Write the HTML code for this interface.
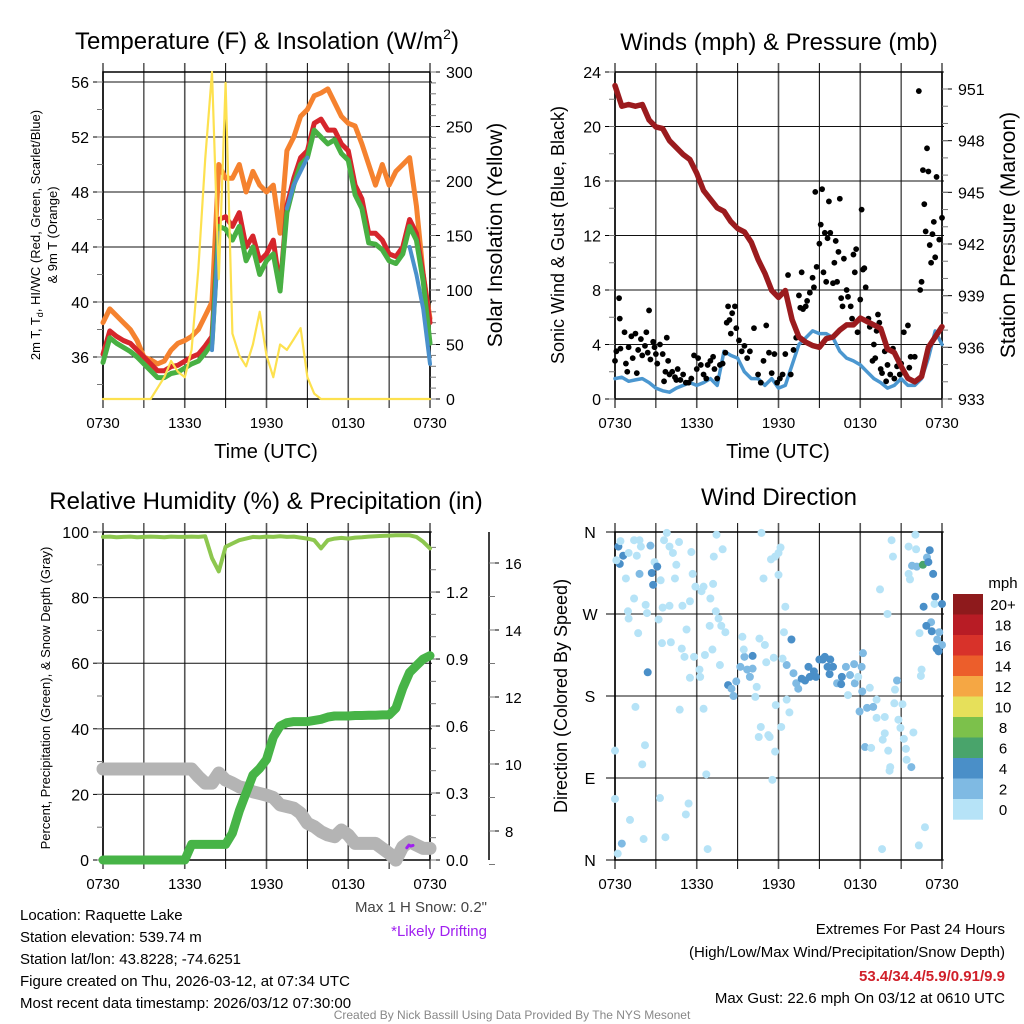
<!DOCTYPE html>
<html><head><meta charset="utf-8"><style>
html,body{margin:0;padding:0;background:#fff;}
svg{display:block;font-family:"Liberation Sans",Arial,sans-serif;}
</style></head><body>
<svg id="chart" width="1024" height="1024" viewBox="0 0 1024 1024" xmlns="http://www.w3.org/2000/svg">
<rect x="0" y="0" width="1024" height="1024" fill="#fff"/>
<text x="267" y="49" font-size="24" text-anchor="middle">Temperature (F) &amp; Insolation (W/m<tspan font-size="14" dy="-10">2</tspan><tspan dy="10">)</tspan></text>
<text x="779" y="50" font-size="24" text-anchor="middle">Winds (mph) &amp; Pressure (mb)</text>
<text x="266" y="509" font-size="24" text-anchor="middle">Relative Humidity (%) &amp; Precipitation (in)</text>
<text x="779" y="505" font-size="24" text-anchor="middle">Wind Direction</text>

<text transform="translate(40,235) rotate(-90)" font-size="13" text-anchor="middle">2m T, T<tspan font-size="9" dy="3">d</tspan><tspan dy="-3">, HI/WC (Red, Green, Scarlet/Blue)</tspan></text>
<text transform="translate(57,235) rotate(-90)" font-size="13" text-anchor="middle">&amp; 9m T (Orange)</text>
<text transform="translate(502,235) rotate(-90)" font-size="21" text-anchor="middle">Solar Insolation (Yellow)</text>
<text transform="translate(564,235) rotate(-90)" font-size="18" text-anchor="middle">Sonic Wind &amp; Gust (Blue, Black)</text>
<text transform="translate(1015,235) rotate(-90)" font-size="21" text-anchor="middle">Station Pressure (Maroon)</text>
<text transform="translate(50,698) rotate(-90)" font-size="13" text-anchor="middle">Percent, Precipitation (Green), &amp; Snow Depth (Gray)</text>
<text transform="translate(567,696) rotate(-90)" font-size="18" text-anchor="middle">Direction (Colored By Speed)</text>
<text x="266" y="458" font-size="20" text-anchor="middle">Time (UTC)</text>
<text x="778" y="458" font-size="20" text-anchor="middle">Time (UTC)</text>

<g id="layer"></g>

<text x="487" y="912" font-size="15" fill="#444" text-anchor="end">Max 1 H Snow: 0.2"</text>
<text x="487" y="936" font-size="15" fill="#a020f0" text-anchor="end">*Likely Drifting</text>
<g font-size="15">
<text x="20" y="920">Location: Raquette Lake</text>
<text x="20" y="942">Station elevation: 539.74 m</text>
<text x="20" y="964">Station lat/lon: 43.8228; -74.6251</text>
<text x="20" y="986">Figure created on Thu, 2026-03-12, at 07:34 UTC</text>
<text x="20" y="1008">Most recent data timestamp: 2026/03/12 07:30:00</text>
</g>
<g font-size="15" text-anchor="end">
<text x="1005" y="934">Extremes For Past 24 Hours</text>
<text x="1005" y="957">(High/Low/Max Wind/Precipitation/Snow Depth)</text>
<text x="1005" y="981" fill="#d0202a" font-weight="bold">53.4/34.4/5.9/0.91/9.9</text>
<text x="1005" y="1003">Max Gust: 22.6 mph On 03/12 at 0610 UTC</text>
</g>
<text x="512" y="1019" font-size="12" fill="#888" text-anchor="middle">Created By Nick Bassill Using Data Provided By The NYS Mesonet</text>
</svg>
<script>
// ---- data (30-min steps, 0730 -> 0730 UTC) ----
const timeLabels = ["0730","1330","1930","0130","0730"];
const temp2m = [36.2,37.9,37.5,37.2,37,36.5,36,35.5,35,35,35.3,35.4,35.7,36,36.2,36.8,37.5,46,46.2,45.5,46.5,44,44.8,43,43.5,44.5,41,47,49,50.5,51,53,53.3,52.5,52.5,51.5,51,48.5,47.5,45,45,44.5,43.5,43.3,44,46,45,42,38.5];
const dewGreen = [35.6,37.4,37,36.7,36.4,36,35.5,35,34.5,34.5,34.8,34.9,35.2,35.5,35.7,36.3,37,45.5,45.3,44.5,45.5,43,44,42,43,43.5,40.8,46.5,48.5,50,50.5,52.5,52,51.5,51.8,50.8,50.3,47.8,46.8,44.3,44.2,43.8,43,42.8,43.5,45.5,44.5,41.5,37];
const windChill = [null,null,null,null,null,null,null,null,null,null,null,null,null,null,null,null,36.5,45,null,null,null,null,null,null,null,null,null,46.8,48.5,49.5,50.5,null,null,null,null,null,null,null,null,null,null,null,null,null,null,44,42,39.5,35.5];
const temp9m = [38.5,39.5,39,38.5,38,37.2,36,35.8,35.5,35.7,36.5,37,37.2,37.5,38,39,40,50,49,49,50,48,49.5,48.5,48,48.5,45,51,52,53.5,54,55,55.2,55.5,54.5,53.5,53,52.8,51.5,50,48.5,50,48.5,49.5,50,50.5,47,42,38.8];
const solar = [0,0,0,0,0,0,0,0,10,20,35,25,20,45,120,220,300,110,290,60,40,30,50,80,40,20,50,45,55,65,20,5,0,0,0,0,0,0,0,0,0,0,0,0,0,0,0,0,0];
const sonicWind = [1.5,1.6,1.3,1.4,1.5,1.2,0.8,0.6,0.5,0.8,1,1.2,1,1.2,1.5,1,3.5,3.2,3,2,1.5,1.5,1,1.5,0.8,1,2.5,4,4.5,5,4.8,4.8,4.5,3.5,3,2.8,2.5,2,1.5,1.2,0.8,1,1.5,1,1,1.5,3,5,4];
const pressure = [951.2,950,950.1,950,950.1,949.2,948.8,948.7,948,947.6,947.2,946.9,946.1,945.1,944.6,944.1,943.9,943.3,942.9,942.7,942.1,941.1,940.3,939.3,938.9,939.3,937.6,936.6,936.3,936.1,936,936.5,936.6,937,937.3,937.3,937.7,937.5,937.3,937.1,935.9,935.7,934.9,934.2,934,934.3,936,936.6,937.2];
const gustHours = [0,0.1,0.3,0.35,0.4,0.7,0.8,0.9,1,1.2,1.3,1.5,1.6,1.7,1.9,2,2.2,2.3,2.4,2.5,2.6,2.8,2.9,3,3.1,3.3,3.5,3.6,3.7,3.8,3.9,4,4.2,4.4,4.5,4.6,4.8,5,5.2,5.4,5.6,5.8,6,6.1,6.3,6.5,6.7,6.8,7,7.2,7.3,7.5,7.7,7.9,8.1,8.2,8.3,8.4,8.5,8.6,8.8,8.9,9.1,9.3,9.5,9.7,9.9,10.2,10.5,10.7,10.9,11.1,11.3,11.5,11.7,11.9,12.1,12.3,12.5,12.7,12.9,13.1,13.3,13.5,13.6,13.7,13.8,14,14.1,14.3,14.5,14.6,14.7,14.8,15,15.1,15.2,15.3,15.4,15.5,15.6,15.7,15.8,16,16.1,16.2,16.3,16.4,16.5,16.6,16.7,16.8,17,17.1,17.3,17.4,17.5,17.6,17.7,17.8,18,18.1,18.2,18.3,18.4,18.6,18.7,18.9,19,19.1,19.2,19.3,19.4,19.5,19.6,19.8,19.9,20,20.2,20.4,20.5,20.7,20.9,21,21.2,21.5,21.6,21.7,22,22.3,22.4,22.5,22.6,22.7,22.8,22.9,23,23.1,23.2,23.3,23.4,23.5,23.6,23.8,24];
const gustValues = [2.8,3.5,7.4,5.9,3.7,4.9,2.6,2,3.8,4.6,3,4.8,1.9,3.6,4.4,3.2,3.9,4.9,3.4,6.5,2.9,4.2,3.8,3.3,2.6,4,3.3,1.3,2,4.5,2.8,1.8,2,1.6,1.4,2.2,1.4,1.8,1.2,1.2,1.5,3.2,2.2,3,2.5,1.8,1.5,2.5,2.8,3.1,2.2,1.5,2.5,2.6,3.4,5.6,6.8,5.8,4.8,6.3,6.8,5.2,4.3,3.5,3.9,3,3.5,5.2,1.8,1.2,2.8,5.4,3.4,1.9,3.3,1.2,1.5,1.8,3.3,9.1,1.8,3.6,4.5,7.6,6.7,9.3,6.6,6.8,7.2,7.8,8.9,8.2,15.2,9.7,11.4,12.8,15.4,9.3,12.2,8.6,11.8,14.5,12.2,8.5,10,11.6,8.6,10.8,14.7,7.4,6.8,10.3,8,7.5,6.8,5.9,10.6,9.3,11,4.9,7.3,13.9,9.5,9.6,8.2,5.9,5.3,2.8,4,3,5,6.2,5.6,2.2,1.9,3.5,1.3,2.5,1.8,3.7,1.5,2.4,1.8,2.6,4.9,5.4,2.3,3.1,3.1,22.6,8,8.6,16.8,14.3,12.3,18.4,16.7,11.3,10,12.1,13,10.4,16.3,11.7,13.3];
const humidity = [98.5,98.6,98.4,98.5,98.6,98.4,98.5,98.6,98.5,98.4,98.6,98.5,98.5,98.6,98.5,98.7,92,88,95.5,96.5,97.5,98,98.5,98.4,98.6,98.5,98.7,98.5,98.6,98.3,98,97.5,95,97.5,98,98.2,98,98.3,98.4,98.6,98.7,98.8,98.9,99,99,99,98.5,97,95];
const precip = [0,0,0,0,0,0,0,0,0,0,0,0,0,0.07,0.07,0.07,0.07,0.07,0.07,0.12,0.22,0.3,0.38,0.41,0.45,0.55,0.6,0.615,0.62,0.62,0.62,0.625,0.63,0.64,0.645,0.645,0.645,0.647,0.647,0.648,0.648,0.65,0.65,0.68,0.77,0.84,0.87,0.9,0.915];
const snowDepth = [9.85,9.85,9.85,9.85,9.85,9.85,9.85,9.85,9.85,9.85,9.85,9.85,9.85,9.85,9.62,9.43,9.43,9.73,9.52,9.43,9.32,9.27,9.17,9.12,9.07,9.0,8.78,8.73,8.68,8.53,8.23,8.13,7.98,7.88,7.83,8.03,7.88,7.63,7.63,7.63,7.63,7.48,7.33,7.13,7.53,7.68,7.58,7.48,7.48];
const driftHours = [22.3,22.45,22.6,22.75];
const driftValues = [7.5,7.58,7.55,7.57];
const dirHours = [0.25,0.4,0.6,0.35,0.1,0.8,1.0,1.4,1.6,1.8,1.9,1.8,1.4,0.95,1.0,1.7,2.25,2.35,2.6,2.7,2.8,2.9,3.1,3.35,3.6,3.8,4.0,4.25,4.5,4.4,4.7,3.2,3.5,4.0,4.95,5.6,5.7,5.9,6.35,6.5,7.0,7.2,7.4,7.6,7.9,7.45,7.25,6.95,6.6,7.15,7.7,7.8,8.1,5.5,5.25,4.9,5.1,5.8,5.5,6.2,6.25,3.45,4.1,2.4,1.5,4.75,6.5,0.0,2.2,2.0,0.0,1.1,0.5,0.2,2.1,3.7,3.3,5.2,5.4,6.7,6.8,8.3,8.55,8.7,8.9,9.2,9.5,9.7,9.9,10.1,10.1,9.35,9.45,10.4,10.3,10.7,10.55,11.35,11.25,11.75,11.55,10.75,10.9,11.45,11.75,12.0,12.15,12.0,12.5,12.4,12.95,12.6,12.3,11.0,10.6,11.1,11.65,11.8,12.6,12.8,12.2,13.1,13.3,13.45,13.7,13.95,14.2,14.3,14.6,14.75,15.0,15.25,15.4,15.6,15.8,16.0,15.75,16.3,16.65,16.6,16.95,17.25,17.55,17.6,17.85,18.1,18.2,17.1,18.15,17.95,18.5,18.95,18.7,19.2,19.2,19.8,18.35,18.8,19.8,19.65,20.05,20.2,20.15,20.5,20.55,20.7,21.1,20.8,20.95,21.2,21.35,21.4,21.75,21.9,22.45,22.5,22.35,19.45,20.0,20.3,20.4,21.55,21.65,21.55,22.05,22.1,21.8,22.15,22.6,22.9,23.1,23.0,23.35,23.5,22.65,23.45,24.0,23.2,22.85,23.25,23.8,23.65,24.0,23.6,23.75,22.75,22.3,19.6];
const dirDegrees = [344,350,334,325,329,309,337,351,334,351,344,314,287,273,265,249,280,271,345,315,302,327,322,307,351,359,344,337,324,309,349,264,277,279,279,338,314,300,295,300,287,303,273,265,341,357,333,257,225,231,214,257,250,284,253,232,223,223,200,209,201,238,239,206,168,165,166,120,126,105,67,44,18,7,23,25,68,50,62,94,12,192,188,180,196,212,223,209,201,210,224,245,231,190,179,146,135,135,137,119,88,359,309,330,333,337,343,313,278,250,242,214,221,236,243,217,222,170,176,162,146,205,194,188,199,197,212,201,207,201,220,220,223,212,220,212,204,194,201,193,212,203,215,194,201,212,227,181,185,163,167,168,189,176,156,157,124,123,139,132,120,102,98,172,187,197,171,154,145,133,122,110,102,140,202,209,249,297,270,351,333,314,308,344,357,341,323,322,324,332,340,327,314,289,278,281,281,261,257,251,250,242,236,232,229,36,16,12];
const dirSpeeds = [4,1,4,4,1,1,1,1,1,1,1,3,1,1,1,1,1,1,3,4,4,1,4,1,1,1,1,1,1,1,1,1,1,1,1,1,1,1,1,1,1,1,1,1,1,1,1,1,1,1,1,1,1,1,1,1,1,1,1,1,1,1,1,4,1,1,1,1,1,1,1,1,3,1,1,1,1,1,1,1,1,4,3,3,3,3,3,3,3,3,4,1,1,1,1,1,1,1,1,1,1,1,1,1,1,1,1,1,1,1,4,3,1,1,1,1,1,1,1,1,1,3,3,3,4,4,4,4,4,4,4,4,4,4,4,4,4,3,4,4,3,3,3,3,1,3,3,1,3,3,3,3,1,1,1,1,3,1,1,1,1,1,1,1,1,3,1,1,1,1,1,1,3,1,1,1,1,1,1,1,1,1,1,1,1,1,3,3,6,3,4,4,4,4,4,1,4,3,4,4,3,3,3,4,4,1,1];
const speedBinLabels = ["20+","18","16","14","12","10","8","6","4","2","0"];
const speedBinColors = ["#8e1a1c","#b81c25","#d8322a","#ec5e2b","#f5a744","#e6e05a","#7cc14b","#49a46b","#4a8fc8","#7fbae3","#b6e3f7"];
const tempTicks = [36,40,44,48,52,56];
const solarTicks = [0,50,100,150,200,250,300];
const windTicks = [0,4,8,12,16,20,24];
const pressureTicks = [933,936,939,942,945,948,951];
const rhTicks = [0,20,40,60,80,100];
const precipTicks = [0,0.3,0.6,0.9,1.2];
const snowTicks = [8,10,12,14,16];
const dirTicks = [0,90,180,270,360];
const dirTickLabels = ["N","E","S","W","N"];

const NS = "http://www.w3.org/2000/svg";
const layer = document.getElementById("layer");
function mk(tag, attrs, name, parent) {
  const el = document.createElementNS(NS, tag);
  for (const k in attrs) el.setAttribute(k, attrs[k]);
  
  
  (parent || layer).appendChild(el);
  return el;
}
function txt(x, y, s, size, anchor, name, fill) {
  const t = mk("text", {x: x, y: y, "font-size": size, "text-anchor": anchor, fill: fill || "#000"}, name);
  t.textContent = s;
  return t;
}
// scales
const L = 103, W = 327, L2 = 615;
const xA = h => L + h * W / 24;
const xB = h => L2 + h * W / 24;
const yTemp = t => 357 - (t - 36) * 13.75;
const ySolar = v => 399 - v * 327 / 300;
const yWind = v => 399 - v * 327 / 24;
const yPres = p => 399 - (p - 933) * 310 / 18;
const yRH = v => 860 - v * 3.28;
const yPrec = v => 860 - v * 223.3;
const ySnow = v => 831 - (v - 8) * 33.5;
const yDir = d => 860 - d * 328 / 360;

function path(vals, xf, yf, name, color, width, hours) {
  let d = "", pen = false;
  vals.forEach((v, i) => {
    if (v === null) { pen = false; return; }
    const h = hours ? hours[i] : i * 0.5;
    d += (pen ? "L" : "M") + xf(h).toFixed(1) + "," + yf(v).toFixed(1);
    pen = true;
  });
  return mk("path", {d: d, fill: "none", stroke: color, "stroke-width": width, "stroke-linejoin": "round", "stroke-linecap": "round"}, name);
}
function grid(x0, top, bottom, hLines, name) {
  const g = mk("g", {}, name);
  for (let k = 0; k <= 8; k++) {
    const x = x0 + k * W / 8;
    mk("line", {x1: x, y1: top - 9, x2: x, y2: bottom + 9, stroke: k % 2 ? "#000" : "#555", "stroke-width": k % 2 ? 1 : 1.6}, "vertical-gridline", g);
  }
  hLines.forEach(y => mk("line", {x1: x0 - 2, y1: y, x2: x0 + W + 2, y2: y, stroke: "#111", "stroke-width": 1}, "horizontal-gridline", g));
  mk("rect", {x: x0, y: top, width: W, height: bottom - top, fill: "none", stroke: "#000", "stroke-width": 1.5}, "plot-frame", g);
  timeLabels.forEach((s, k) => txt(x0 + k * W / 4, bottom + 29, s, 15, "middle", "x-tick-label"));
}
function axisTicks(ticks, yf, x, dir, labelFmt, minorStep, lo, hi, name, size) {
  const g = mk("g", {}, name);
  ticks.forEach(t => {
    const y = yf(t);
    mk("line", {x1: x, y1: y, x2: x + dir * 10, y2: y, stroke: "#000", "stroke-width": 1}, "major-tick", g);
    txt(dir < 0 ? x - 14 : x + 16, y + 6, labelFmt(t), size || 16, dir < 0 ? "end" : "start", "tick-label");
  });
  if (minorStep) for (let v = lo; v <= hi + 1e-9; v += minorStep) {
    const y = yf(v);
    mk("line", {x1: x, y1: y, x2: x + dir * 6, y2: y, stroke: "#777", "stroke-width": 1}, "minor-tick", g);
  }
}

// ===== Panel 1 =====
grid(L, 72, 399, tempTicks.map(yTemp), "temperature-grid");
axisTicks(tempTicks, yTemp, L, -1, t => String(t), 2, 34, 56, "temperature-axis");
axisTicks(solarTicks, ySolar, L + W, 1, t => String(t), 10, 0, 300, "solar-axis");
path(temp9m, xA, yTemp, "temp-9m-line", "#f5822f", 5);
path(temp2m, xA, yTemp, "temp-2m-line", "#d6262c", 5);
path(dewGreen, xA, yTemp, "hi-wc-green-line", "#48b043", 5);
path(windChill, xA, yTemp, "wind-chill-blue-line", "#4a90cc", 4);
path(solar, xA, ySolar, "solar-line", "#fde14f", 2.2);

// ===== Panel 2 =====
grid(L2, 72, 399, windTicks.map(yWind), "wind-grid");
axisTicks(windTicks, yWind, L2, -1, t => String(t), 2, 0, 24, "wind-axis");
axisTicks(pressureTicks, yPres, L2 + W, 1, t => String(t), 1, 933, 951, "pressure-axis");
path(sonicWind, xB, yWind, "sonic-wind-line", "#4b97d0", 3.5);
const gustG = mk("g", {}, "gust-points");
gustHours.forEach((h, i) => mk("circle", {cx: xB(h), cy: yWind(gustValues[i]), r: 2.9, fill: "#000"}, "gust-point", gustG));
path(pressure, xB, yPres, "pressure-line", "#9b1b1e", 5.5);

// ===== Panel 3 =====
grid(L, 532, 860, rhTicks.map(yRH), "humidity-grid");
axisTicks(rhTicks, yRH, L, -1, t => String(t), 10, 0, 100, "humidity-axis");
axisTicks(precipTicks, yPrec, L + W, 1, t => t.toFixed(1), 0.1, 0, 1.4, "precip-axis");
mk("line", {x1: 489, y1: 532, x2: 489, y2: 860, stroke: "#000", "stroke-width": 1.5}, "snow-axis-line");
axisTicks(snowTicks, ySnow, 489, 1, t => String(t), 1, 7, 16, "snow-axis", 15);
path(humidity, xA, yRH, "humidity-line", "#8dc74f", 4);
path(snowDepth, xA, ySnow, "snow-depth-line", "#b4b4b4", 13);
path(precip, xA, yPrec, "precip-line", "#47b447", 9);
path(driftValues, xA, ySnow, "drifting-snow-line", "#a020f0", 3, driftHours);

// ===== Panel 4 =====
grid(L2, 532, 860, dirTicks.map(yDir), "direction-grid");
const dg = mk("g", {}, "direction-axis");
dirTicks.forEach((d, i) => {
  mk("line", {x1: L2 - 9, y1: yDir(d), x2: L2, y2: yDir(d), stroke: "#000"}, "major-tick", dg);
  txt(L2 - 25, yDir(d) + 6, dirTickLabels[i], 16, "middle", "direction-tick-label");
});
const colorFor = s => speedBinColors[10 - Math.min(10, Math.floor((s === undefined ? 1 : s) / 2))];
const dirG = mk("g", {}, "direction-points");
dirHours.forEach((h, i) => mk("circle", {cx: xB(h), cy: yDir(dirDegrees[i]), r: 4, fill: colorFor(dirSpeeds[i])}, "direction-point", dirG));
// colorbar
const cb = mk("g", {}, "speed-colorbar");
txt(1003, 588, "mph", 15, "middle", "colorbar-title");
speedBinLabels.forEach((lab, i) => {
  const y = 594 + i * 20.5;
  mk("rect", {x: 953, y: y, width: 30, height: 20.7, fill: speedBinColors[i]}, "colorbar-bin", cb);
  txt(1003, y + 16, lab, 15, "middle", "colorbar-label");
});
</script>
</body></html>
